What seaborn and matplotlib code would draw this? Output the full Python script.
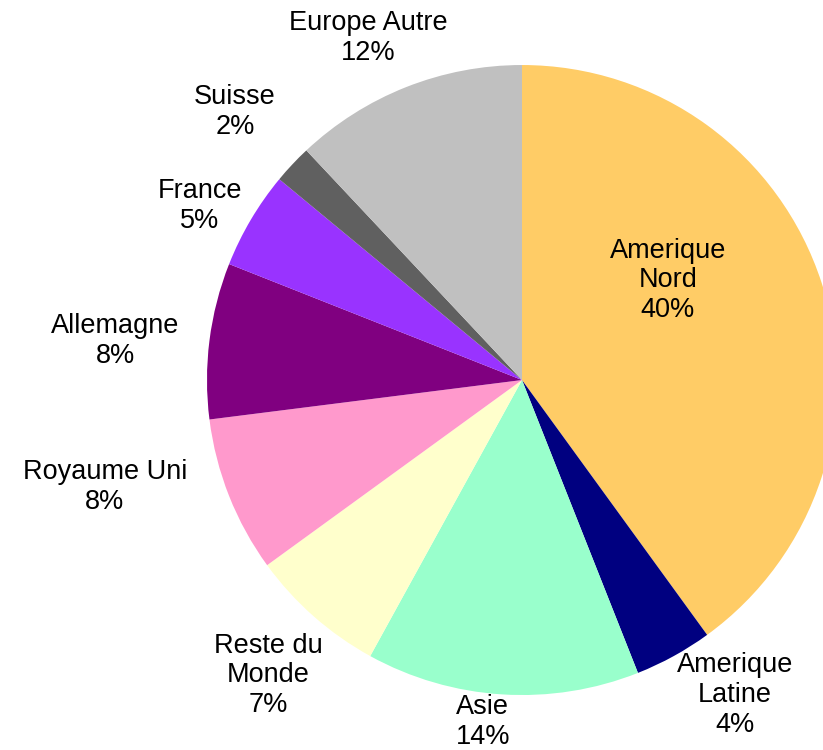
import numpy as np
import pandas as pd
import seaborn as sns
import matplotlib.pyplot as plt

sns.set_theme(style="white")
plt.rcParams['font.family'] = ['Liberation Sans', 'DejaVu Sans']

# parts, clockwise from 12 o'clock
regions = ["Amerique\nNord", "Amerique\nLatine", "Asie", "Reste du\nMonde",
           "Royaume Uni", "Allemagne", "France", "Suisse", "Europe Autre"]
shares = [40, 4, 14, 7, 8, 8, 5, 2, 12]
colors = ["#FFCC66", "#000080", "#99FFCC", "#FFFFCC", "#FF99CC",
          "#800080", "#9933FF", "#606060", "#C0C0C0"]

# where each label sits (in pie radius units, centre = 0,0)
label_pos = [(0.463, 0.317), (0.676, -1.0), (-0.124, -1.086), (-0.806, -0.937),
             (-1.324, -0.34), (-1.292, 0.124), (-1.022, 0.552), (-0.911, 0.851),
             (-0.489, 1.086)]

df = pd.DataFrame({"region": regions, "share": shares})

fig = plt.figure(figsize=(8.23, 7.5), dpi=100)
ax = fig.add_axes([0.2515, 0.0733, 0.7655, 0.84])
ax.pie(df["share"], colors=colors, startangle=90, counterclock=False,
       radius=1, wedgeprops=dict(linewidth=0))
ax.set_xlim(-1, 1)
ax.set_ylim(-1, 1)
ax.set_aspect("equal")
ax.axis("off")

for (name, val), (x, y) in zip(df[["region", "share"]].values, label_pos):
    ax.text(x, y, f"{name}\n{val}%", ha="center", va="center", fontsize=19.5,
            linespacing=1.18, color="black", clip_on=False)

fig.savefig("out.png", dpi=100)
